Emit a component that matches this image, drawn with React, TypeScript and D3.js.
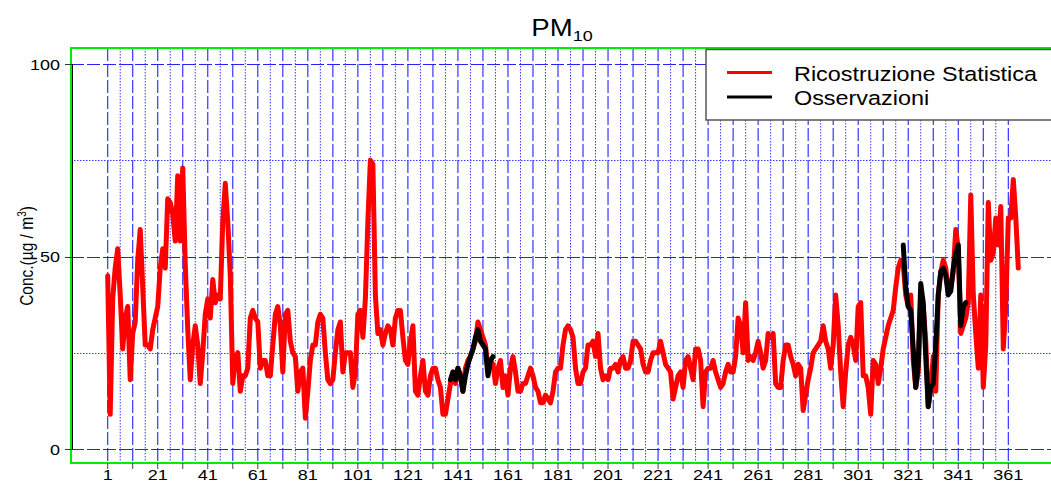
import React from 'react';
import * as d3 from 'd3';

// Daily reconstructed PM10 concentrations, days 1..365
const ricostruzione: number[] = [
  45, 9, 39, 47, 52, 40, 26, 34, 37, 18,
  30, 33, 49, 57, 42, 27, 27, 26, 31, 34,
  37, 47, 52, 47, 65, 64, 61, 54, 71, 54,
  73, 48, 31, 18, 27, 32, 27, 17, 25, 35,
  39, 34, 44, 38, 40, 39, 59, 69, 59, 45,
  17, 24, 25, 15, 19, 19, 21, 34, 36, 34,
  33, 21, 23, 23, 19, 19, 27, 35, 37, 32,
  20, 35, 36, 28, 25, 24, 15, 20, 21, 8,
  15, 23, 27, 27, 33, 35, 34, 25, 18, 17,
  18, 25, 31, 33, 20, 25, 25, 25, 16, 20,
  35, 36, 29, 39, 59, 75, 74, 40, 30, 31,
  27, 30, 32, 31, 27, 34, 36, 36, 29, 23,
  22, 28, 32, 15, 14, 19, 23, 15, 14, 19,
  21, 21, 18, 16, 9, 9, 13, 17, 20, 17,
  21, 19, 15, 21, 23, 24, 26, 28, 33, 31,
  29, 27, 21, 23, 22, 17, 21, 23, 16, 19,
  14, 21, 24, 20, 15, 15, 17, 17, 19, 21,
  19, 16, 15, 12, 12, 14, 13, 12, 15, 20,
  21, 21, 27, 31, 32, 31, 29, 21, 17, 17,
  20, 21, 27, 27, 28, 24, 30, 21, 18, 19,
  18, 21, 21, 22, 20, 23, 24, 21, 21, 23,
  28, 28, 27, 26, 22, 20, 20, 23, 25, 25,
  25, 28, 25, 22, 21, 20, 13, 16, 19, 20,
  16, 23, 24, 21, 18, 26, 26, 23, 11, 20,
  21, 21, 23, 20, 18, 16, 17, 20, 22, 20,
  20, 24, 34, 32, 25, 38, 23, 24, 23, 25,
  28, 25, 21, 23, 30, 29, 30, 17, 16, 16,
  23, 27, 27, 24, 22, 19, 22, 21, 10, 14,
  18, 21, 25, 26, 27, 28, 32, 28, 26, 21,
  27, 40, 32, 20, 11, 20, 27, 29, 27, 23,
  37, 38, 19, 19, 16, 9, 23, 22, 17, 21,
  26, 29, 32, 34, 36, 42, 47, 49, 48, 40,
  37, 40, 23, 16, 20, 41, 37, 28, 11, 16,
  24, 15, 40, 46, 49, 47, 41, 42, 46, 57,
  52, 30, 32, 34, 38, 66, 40, 30, 21, 40,
  16, 27, 64, 49, 51, 60, 53, 63, 26, 37,
  60, 60, 70, 60, 47,
];

// Observations: two periods
const osservazioni1Start = 138;
const osservazioni1: number[] = [18, 20, 18, 21, 19, 15, 19, 22, 24, 26, 29, 31, 28, 27, 26, 19, 23, 24];
const osservazioni2Start = 319;
const osservazioni2: number[] = [53, 42, 37, 36, 26, 16, 22, 43, 38, 24, 11, 16, 17, 27, 40, 46, 47, 45, 40, 41, 47, 51, 53, 32, 37, 38];

const yTicks = [0, 50, 100];
const yDashed = [0, 50, 100];
const yDotted = [25, 75];
const xTickLabels = [1, 21, 41, 61, 81, 101, 121, 141, 161, 181, 201, 221, 241, 261, 281, 301, 321, 341, 361];
const xTicks = d3.range(1, 362, 10);
const xDashed = d3.range(1, 362, 10);
const xDotted = d3.range(6, 357, 10);
const legendLabels = ['Ricostruzione Statistica', 'Osservazioni'];
const legendColors = ['#ff0000', '#000000'];

const FONT = '"Liberation Sans", Arial, Helvetica, sans-serif';
const SX = 1.2;

export default function App() {
  const left = 71, top = 48, bottom = 463;
  const x = d3.scaleLinear().domain([1, 361]).range([107.7, 1008.3]);
  const y = d3.scaleLinear().domain([0, 100]).range([449, 64]);
  const line = d3.line<[number, number]>().x(d => x(d[0])).y(d => y(d[1]));

  const recPts: [number, number][] = ricostruzione.map((v, i) => [i + 1, v]);
  const obs1: [number, number][] = osservazioni1.map((v, i) => [osservazioni1Start + i, v]);
  const obs2: [number, number][] = osservazioni2.map((v, i) => [osservazioni2Start + i, v]);

  return (
    <svg width={1051} height={481} style={{ position: 'absolute', left: 0, top: 0, background: '#fff' }}
      fontFamily={FONT}>
      {/* grid */}
      {xDashed.map(d => (
        <line key={'vd' + d} x1={x(d)} x2={x(d)} y1={top} y2={bottom} stroke="#2424ff" strokeWidth={1.1} strokeDasharray="13,3" />
      ))}
      {xDotted.map(d => (
        <line key={'vo' + d} x1={x(d)} x2={x(d)} y1={top} y2={bottom} stroke="#3a3aff" strokeWidth={1} strokeDasharray="1.5,1.5" />
      ))}
      {yDashed.map(v => (
        <line key={'hd' + v} x1={left} x2={1060} y1={Math.round(y(v)) + 0.5} y2={Math.round(y(v)) + 0.5} stroke="#2424ff" strokeWidth={1} strokeDasharray="13,3" />
      ))}
      {yDotted.map(v => (
        <line key={'ho' + v} x1={left} x2={1060} y1={Math.round(y(v)) + 0.5} y2={Math.round(y(v)) + 0.5} stroke="#3a3aff" strokeWidth={1} strokeDasharray="1.5,1.5" />
      ))}

      {/* series */}
      <path d={line(recPts) || ''} fill="none" stroke="#ff0000" strokeWidth={5} strokeLinejoin="round" strokeLinecap="round" />
      <path d={line(obs1) || ''} fill="none" stroke="#000000" strokeWidth={5} strokeLinejoin="round" strokeLinecap="round" />
      <path d={line(obs2) || ''} fill="none" stroke="#000000" strokeWidth={5} strokeLinejoin="round" strokeLinecap="round" />

      {/* box */}
      <rect x={left} y={top} width={1000} height={bottom - top} fill="none" stroke="#00ee00" strokeWidth={2} />
      <line x1={72.5} x2={72.5} y1={y(0)} y2={y(100)} stroke="#000" strokeWidth={1} />

      {/* y axis */}
      {yTicks.map(v => (
        <g key={'yt' + v}>
          <line x1={65} x2={72} y1={Math.round(y(v)) + 0.5} y2={Math.round(y(v)) + 0.5} stroke="#333" strokeWidth={1} />
          <text transform={`translate(60,${y(v) + 5.5}) scale(${SX},1)`} textAnchor="end" fontSize={15} fill="#000">{v}</text>
        </g>
      ))}
      <text transform={`translate(33,256) scale(${SX},1) rotate(-90)`} textAnchor="middle" fontSize={15.5} fill="#000">
        Conc.(µg / m<tspan fontSize={10} dy={-6}>3</tspan><tspan dy={6}>)</tspan>
      </text>

      {/* x axis */}
      {xTicks.map(d => (
        <line key={'xt' + d} x1={x(d)} x2={x(d)} y1={bottom} y2={bottom + 6} stroke="#444" strokeWidth={1} />
      ))}
      {xTickLabels.map(d => (
        <text key={'xl' + d} transform={`translate(${x(d)},480) scale(${SX},1)`} textAnchor="middle" fontSize={15} fill="#000">{d}</text>
      ))}

      {/* title */}
      <text transform={`translate(562,36) scale(${SX},1)`} textAnchor="middle" fontSize={23} fill="#000">
        PM<tspan fontSize={15} dy={5}>10</tspan>
      </text>

      {/* legend */}
      <rect x={706} y={49.5} width={400} height={70.5} fill="#fff" stroke="#555" strokeWidth={1.5} />
      {legendLabels.map((lab, i) => (
        <g key={lab}>
          <line x1={727} x2={772} y1={72.5 + i * 24.5} y2={72.5 + i * 24.5} stroke={legendColors[i]} strokeWidth={3} />
          <text transform={`translate(794,${81 + i * 24}) scale(${SX},1)`} fontSize={19.5} fill="#000">{lab}</text>
        </g>
      ))}
    </svg>
  );
}
